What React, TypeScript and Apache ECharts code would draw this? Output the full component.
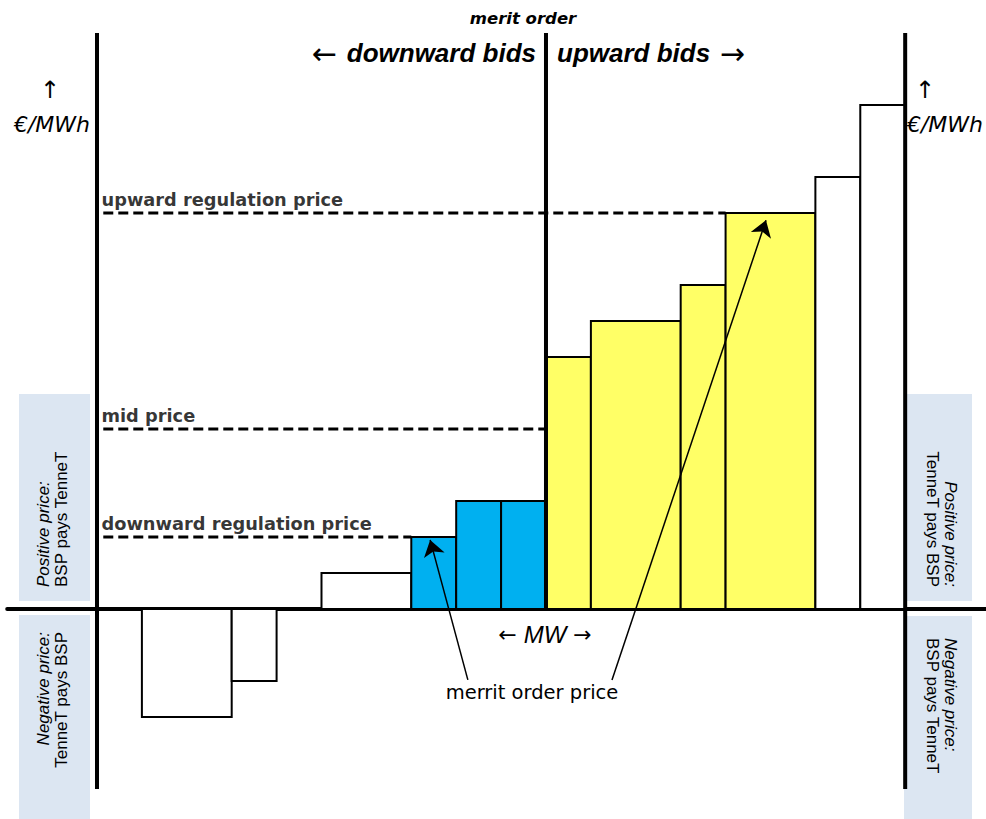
import React, { useEffect, useRef } from "react";
import * as echarts from "echarts";

// Bids in the merit order (MW positions along the x axis, price in €/MWh units)
const bidFrom = [1, 3, 5, 7, 8, 9, 10, 11, 13, 14, 16, 17];
const bidTo = [3, 4, 7, 8, 9, 10, 11, 13, 14, 16, 17, 18];
const bidPrice = [-3, -2, 1, 2, 3, 3, 7, 8, 9, 11, 12, 14];
// 0 = not activated (white), 1 = activated downward (blue), 2 = activated upward (yellow)
const bidKind = [0, 0, 0, 1, 1, 1, 2, 2, 2, 2, 0, 0];
const kindColors = ["#ffffff", "#00b0f0", "#ffff66"];

const priceNames = ["upward regulation price", "mid price", "downward regulation price"];
const priceLevels = [11, 5, 2];
const priceLineEnd = [14, 10, 7];
const priceLineStart = 0.14;

const arrowFrom = [[8.26, -1.97], [11.47, -1.97]];
const arrowTo = [[7.42, 1.92], [14.9, 10.8]];

const FONT = "'Liberation Sans', Arial, Helvetica, sans-serif";
const DJ = "'DejaVu Sans', sans-serif";

export default function App() {
  const ref = useRef<HTMLDivElement>(null);
  useEffect(() => {
    if (!ref.current) return;
    const chart = echarts.init(ref.current, undefined, { renderer: "svg" });
    const bars = bidFrom.map((f, i) => [f, bidTo[i], bidPrice[i], bidKind[i]]);
    const boxFill = "#dce6f2";
    const boxRich = {
      i: { fontStyle: "italic", fontSize: 17, fontFamily: FONT, lineHeight: 18, fill: "#000" },
      n: { fontSize: 17, fontFamily: FONT, lineHeight: 18, fill: "#000" },
    };
    const option: any = {
      animation: false,
      backgroundColor: "#ffffff",
      grid: { left: 7.2, right: 0, top: 33, bottom: 30 },
      xAxis: {
        type: "value",
        min: -2,
        max: 19.8,
        axisLine: { show: true, onZero: true, lineStyle: { color: "#000", width: 4 } },
        axisTick: { show: false },
        axisLabel: { show: false },
        splitLine: { show: false },
      },
      yAxis: {
        type: "value",
        min: -5,
        max: 16,
        axisLine: { show: false },
        axisTick: { show: false },
        axisLabel: { show: false },
        splitLine: { show: false },
      },
      graphic: [
        { type: "rect", shape: { x: 19, y: 394, width: 71, height: 207 }, style: { fill: boxFill }, z: 0 },
        { type: "rect", shape: { x: 19, y: 615, width: 71, height: 204 }, style: { fill: boxFill }, z: 0 },
        { type: "rect", shape: { x: 904, y: 394, width: 68, height: 207 }, style: { fill: boxFill }, z: 0 },
        { type: "rect", shape: { x: 904, y: 616, width: 68, height: 203 }, style: { fill: boxFill }, z: 0 },
        {
          type: "text", x: 52.5, y: 587, rotation: Math.PI / 2, z: 1,
          style: { text: "{i|Positive price:}\n{n|BSP pays TenneT}", align: "left", verticalAlign: "middle", rich: boxRich },
        },
        {
          type: "text", x: 52.5, y: 632, rotation: Math.PI / 2, z: 1,
          style: { text: "{i|Negative price:}\n{n|TenneT pays BSP}", align: "right", verticalAlign: "middle", rich: boxRich },
        },
        {
          type: "text", x: 941, y: 587, rotation: -Math.PI / 2, z: 1,
          style: { text: "{i|Positive price:}\n{n|TenneT pays BSP}", align: "right", verticalAlign: "middle", rich: boxRich },
        },
        {
          type: "text", x: 941, y: 638, rotation: -Math.PI / 2, z: 1,
          style: { text: "{i|Negative price:}\n{n|BSP pays TenneT}", align: "left", verticalAlign: "middle", rich: boxRich },
        },
        {
          type: "text", x: 523, y: 18, z: 5,
          style: { text: "merit order", font: `italic bold 16.5px ${DJ}`, align: "center", verticalAlign: "middle", fill: "#000" },
        },
        {
          type: "text", x: 536, y: 53, z: 5,
          style: {
            text: "{a|← }{b|downward bids}", align: "right", verticalAlign: "middle",
            rich: { a: { fontSize: 30, fontFamily: DJ, fill: "#000" }, b: { fontSize: 26, fontStyle: "italic", fontWeight: "bold", fontFamily: FONT, fill: "#000" } },
          },
        },
        {
          type: "text", x: 557, y: 53, z: 5,
          style: {
            text: "{b|upward bids}{a| →}", align: "left", verticalAlign: "middle",
            rich: { a: { fontSize: 30, fontFamily: DJ, fill: "#000" }, b: { fontSize: 26, fontStyle: "italic", fontWeight: "bold", fontFamily: FONT, fill: "#000" } },
          },
        },
        { type: "text", x: 50, y: 90, z: 5, style: { text: "↑", font: `24px ${DJ}`, align: "center", verticalAlign: "middle", fill: "#000" } },
        { type: "text", x: 52, y: 124, z: 5, style: { text: "€/MWh", font: `italic 22px ${DJ}`, align: "center", verticalAlign: "middle", fill: "#000" } },
        { type: "text", x: 925, y: 90, z: 5, style: { text: "↑", font: `24px ${DJ}`, align: "center", verticalAlign: "middle", fill: "#000" } },
        { type: "text", x: 945, y: 124, z: 5, style: { text: "€/MWh", font: `italic 22px ${DJ}`, align: "center", verticalAlign: "middle", fill: "#000" } },
        {
          type: "text", x: 545, y: 634, z: 5,
          style: {
            text: "{a|← }{b|MW}{a| →}", align: "center", verticalAlign: "middle",
            rich: { a: { fontSize: 22, fontFamily: DJ, fill: "#000" }, b: { fontSize: 24, fontStyle: "italic", fontFamily: FONT, fill: "#000" } },
          },
        },
        { type: "text", x: 532, y: 692, z: 5, style: { text: "merrit order price", font: `19.5px ${DJ}`, align: "center", verticalAlign: "middle", fill: "#000" } },
      ],
      series: [
        {
          type: "custom",
          z: 3,
          data: bars,
          renderItem: (params: any, api: any) => {
            const x0 = api.value(0), x1 = api.value(1), p = api.value(2), k = api.value(3);
            const a = api.coord([x0, p]);
            const b = api.coord([x1, 0]);
            return {
              type: "rect",
              shape: { x: a[0], y: Math.min(a[1], b[1]), width: b[0] - a[0], height: Math.abs(b[1] - a[1]) },
              style: { fill: kindColors[k], stroke: "#000", lineWidth: 2 },
            };
          },
        },
        ...priceLevels.map((lv, i) => ({
          type: "line",
          z: 4,
          symbol: "none",
          silent: true,
          data: [[priceLineStart, lv], [priceLineEnd[i], lv]],
          lineStyle: { color: "#000", width: 3, type: [10, 5] },
        })),
        {
          type: "scatter",
          z: 5,
          symbolSize: 0,
          silent: true,
          data: priceLevels.map((lv, i) => [0.1, lv, priceNames[i]]),
          label: {
            show: true,
            formatter: (p: any) => p.data[2],
            position: [0, -14],
            align: "left",
            verticalAlign: "middle",
            fontFamily: DJ,
            fontWeight: "bold",
            fontSize: 17.8,
            color: "#000",
          },
        },
        {
          type: "line", z: 6, symbol: "none", silent: true,
          data: [[0, -5], [0, 16]], lineStyle: { color: "#000", width: 4 },
        },
        {
          type: "line", z: 6, symbol: "none", silent: true,
          data: [[18, -5], [18, 16]], lineStyle: { color: "#000", width: 4 },
        },
        {
          type: "line", z: 6, symbol: "none", silent: true,
          data: [[10, 0], [10, 16]], lineStyle: { color: "#000", width: 4 },
        },
        {
          type: "lines",
          coordinateSystem: "cartesian2d",
          z: 7,
          silent: true,
          symbol: ["none", "arrow"],
          symbolSize: [10, 16],
          lineStyle: { color: "#000", width: 1.5, opacity: 1 },
          itemStyle: { color: "#000" },
          data: arrowFrom.map((f, i) => ({ coords: [f, arrowTo[i]] })),
        },
      ],
    };
    chart.setOption(option);
    return () => chart.dispose();
  }, []);
  return <div ref={ref} style={{ position: "fixed", left: 0, top: 0, width: 986, height: 819 }} />;
}
